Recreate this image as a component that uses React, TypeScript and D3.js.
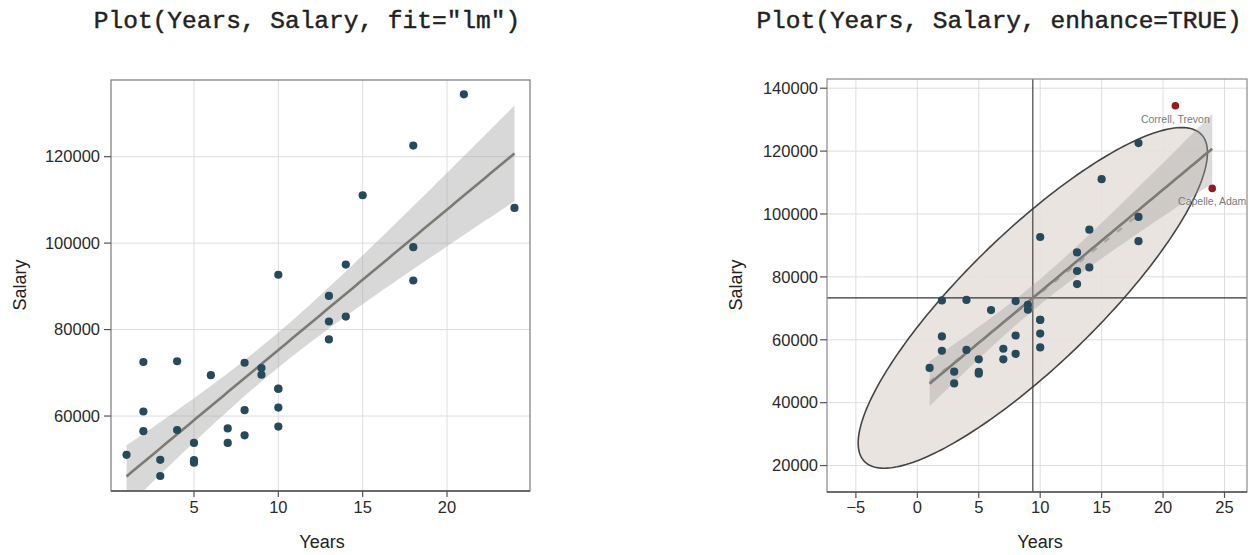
import React from "react";
import * as d3 from "d3";

// Employee records: years of service and annual salary
const years = [1, 2, 2, 2, 3, 3, 4, 4, 5, 5, 5, 6, 7, 7, 8, 8, 8, 9, 9, 10, 10, 10, 10, 10, 13, 13, 13, 14, 14, 15, 18, 18, 18, 21, 24];
const salary = [
  51037, 72503, 61055, 56508, 49869, 46125, 72675, 56773, 53773, 49800, 49189, 69442, 57140, 53788,
  72321, 61357, 55545, 71084, 69548, 92681, 66338, 66313, 61965, 57562, 87786, 81871, 77715, 95028,
  83014, 111075, 122563, 99063, 91352, 134419, 108138,
];
// Rows flagged as outliers in the enhanced plot
const outlierRows = [33, 34];
const outlierNames = ["Correll, Trevon", "Capelle, Adam"];

const leftXTicks = [5, 10, 15, 20];
const leftYTicks = [60000, 80000, 100000, 120000];
const rightXTicks = [-5, 0, 5, 10, 15, 20, 25];
const rightYTicks = [20000, 40000, 60000, 80000, 100000, 120000, 140000];

const titles = ['Plot(Years, Salary, fit="lm")', "Plot(Years, Salary, enhance=TRUE)"];

const SANS = "'Liberation Sans', Arial, Helvetica, sans-serif";
const MONO = "'Liberation Mono', 'Courier New', monospace";
const POINT = "#264a5b";
const OUTLIER = "#951c1c";
const LINE = "#7c7a72";

function fitStats(xs: number[], ys: number[]) {
  const n = xs.length;
  const mx = d3.mean(xs)!;
  const my = d3.mean(ys)!;
  let sxx = 0, syy = 0, sxy = 0;
  for (let i = 0; i < n; i++) {
    sxx += (xs[i] - mx) ** 2;
    syy += (ys[i] - my) ** 2;
    sxy += (xs[i] - mx) * (ys[i] - my);
  }
  const b = sxy / sxx;
  const a = my - b * mx;
  let sse = 0;
  for (let i = 0; i < n; i++) sse += (ys[i] - a - b * xs[i]) ** 2;
  const s = Math.sqrt(sse / (n - 2));
  return { n, mx, my, sxx, syy, sxy, a, b, s };
}

const stats = fitStats(years, salary);
const T_CRIT = 2.0345; // t(0.975, df = 33)
const CHI_R = Math.sqrt(5.991); // sqrt(qchisq(0.95, 2))

function bandData(st: ReturnType<typeof fitStats>, x0: number, x1: number) {
  const pts: { x: number; lo: number; hi: number; y: number }[] = [];
  for (let i = 0; i <= 80; i++) {
    const x = x0 + ((x1 - x0) * i) / 80;
    const y = st.a + st.b * x;
    const se = st.s * Math.sqrt(1 / st.n + (x - st.mx) ** 2 / st.sxx);
    pts.push({ x, y, lo: y - T_CRIT * se, hi: y + T_CRIT * se });
  }
  return pts;
}

function ellipsePoints(st: ReturnType<typeof fitStats>) {
  const sx = Math.sqrt(st.sxx / (st.n - 1));
  const sy = Math.sqrt(st.syy / (st.n - 1));
  const r = st.sxy / Math.sqrt(st.sxx * st.syy);
  const pts: [number, number][] = [];
  for (let i = 0; i <= 240; i++) {
    const t = (2 * Math.PI * i) / 240;
    pts.push([
      st.mx + CHI_R * sx * Math.cos(t),
      st.my + CHI_R * sy * (r * Math.cos(t) + Math.sqrt(1 - r * r) * Math.sin(t)),
    ]);
  }
  return pts;
}

function LeftPanel() {
  const x = d3.scaleLinear().domain([0.08, 24.92]).range([111, 530]);
  const y = d3.scaleLinear().domain([42659, 137734]).range([491, 80]);
  const band = bandData(stats, d3.min(years)!, d3.max(years)!);
  const area = d3.area<any>().x((d) => x(d.x)).y0((d) => y(d.lo)).y1((d) => y(d.hi));
  const line = d3.line<any>().x((d) => x(d.x)).y((d) => y(d.y));
  const [x0, x1] = x.range();
  const [yb, yt] = y.range();
  return (
    <g>
      <defs>
        <clipPath id="clipL">
          <rect x={x0} y={yt} width={x1 - x0} height={yb - yt} />
        </clipPath>
      </defs>
      <text x={307} y={28} fontFamily={MONO} fontSize={24.5} textAnchor="middle" fill="#222" stroke="#222" strokeWidth={0.45}>
        {titles[0]}
      </text>
      {leftXTicks.map((t) => (
        <line key={"gx" + t} x1={x(t)} x2={x(t)} y1={yt} y2={yb} stroke="#dedede" strokeWidth={1} />
      ))}
      {leftYTicks.map((t) => (
        <line key={"gy" + t} x1={x0} x2={x1} y1={y(t)} y2={y(t)} stroke="#dedede" strokeWidth={1} />
      ))}
      <g clipPath="url(#clipL)">
        <path d={area(band)!} fill="#a3a3a3" fillOpacity={0.42} />
        <path d={line(band)!} fill="none" stroke={LINE} strokeWidth={2.6} />
        {years.map((v, i) => (
          <circle key={i} cx={x(v)} cy={y(salary[i])} r={4.1} fill={POINT} />
        ))}
      </g>
      <rect x={x0} y={yt} width={x1 - x0} height={yb - yt} fill="none" stroke="#7a7a7a" strokeWidth={1.2} />
      <line x1={x0} x2={x1} y1={yb} y2={yb} stroke="#555" strokeWidth={1.6} />
      {leftXTicks.map((t) => (
        <g key={"tx" + t}>
          <line x1={x(t)} x2={x(t)} y1={yb} y2={yb + 6} stroke="#555" strokeWidth={1.2} />
          <text x={x(t)} y={513} fontFamily={SANS} fontSize={16.5} textAnchor="middle" fill="#2a2a2a">
            {t}
          </text>
        </g>
      ))}
      {leftYTicks.map((t) => (
        <g key={"ty" + t}>
          <line x1={x0 - 7} x2={x0} y1={y(t)} y2={y(t)} stroke="#555" strokeWidth={1.2} />
          <text x={100} y={y(t)} dy="0.35em" fontFamily={SANS} fontSize={16.5} textAnchor="end" fill="#2a2a2a">
            {t}
          </text>
        </g>
      ))}
      <text x={322} y={548} fontFamily={SANS} fontSize={18} textAnchor="middle" fill="#222">
        Years
      </text>
      <text transform="translate(26,285) rotate(-90)" fontFamily={SANS} fontSize={18} textAnchor="middle" fill="#222">
        Salary
      </text>
    </g>
  );
}

function RightPanel() {
  const x = d3.scaleLinear().domain([-7.35, 26.83]).range([827, 1247]);
  const y = d3.scaleLinear().domain([11592, 142930]).range([492, 79]);
  const band = bandData(stats, d3.min(years)!, d3.max(years)!);
  const area = d3.area<any>().x((d) => x(d.x)).y0((d) => y(d.lo)).y1((d) => y(d.hi));
  const line = d3.line<any>().x((d) => x(d.x)).y((d) => y(d.y));
  const ell = d3.line<[number, number]>().x((d) => x(d[0])).y((d) => y(d[1]));
  // fit with the flagged outliers left out
  const keepX = years.filter((_, i) => !outlierRows.includes(i));
  const keepY = salary.filter((_, i) => !outlierRows.includes(i));
  const stKeep = fitStats(keepX, keepY);
  const trimmed = bandData(stKeep, d3.min(keepX)!, d3.max(keepX)!);
  const [x0, x1] = x.range();
  const [yb, yt] = y.range();
  return (
    <g>
      <defs>
        <clipPath id="clipR">
          <rect x={x0} y={yt} width={x1 - x0} height={yb - yt} />
        </clipPath>
      </defs>
      <text x={999} y={28} fontFamily={MONO} fontSize={24.5} textAnchor="middle" fill="#222" stroke="#222" strokeWidth={0.45}>
        {titles[1]}
      </text>
      {rightXTicks.map((t) => (
        <line key={"gx" + t} x1={x(t)} x2={x(t)} y1={yt} y2={yb} stroke="#dedede" strokeWidth={1} />
      ))}
      {rightYTicks.map((t) => (
        <line key={"gy" + t} x1={x0} x2={x1} y1={y(t)} y2={y(t)} stroke="#dedede" strokeWidth={1} />
      ))}
      <g clipPath="url(#clipR)">
        <path d={ell(ellipsePoints(stats))!} fill="#e7e1dc" fillOpacity={0.9} stroke="#444" strokeWidth={1.6} />
        <line x1={x(stats.mx)} x2={x(stats.mx)} y1={yt} y2={yb} stroke="#333" strokeWidth={1.1} />
        <line x1={x0} x2={x1} y1={y(stats.my)} y2={y(stats.my)} stroke="#333" strokeWidth={1.1} />
        <path d={area(band)!} fill="#a0a0a0" fillOpacity={0.38} />
        <path d={line(band)!} fill="none" stroke={LINE} strokeWidth={2.6} />
        <path d={line(trimmed)!} fill="none" stroke="#8a867e" strokeWidth={2.2} strokeOpacity={0.55} strokeDasharray="6,10" />
        {years.map((v, i) => (
          <circle
            key={i}
            cx={x(v)}
            cy={y(salary[i])}
            r={outlierRows.includes(i) ? 3.8 : 4.1}
            fill={outlierRows.includes(i) ? OUTLIER : POINT}
          />
        ))}
        {outlierRows.map((row, k) => (
          <text
            key={"lab" + row}
            x={x(years[row])}
            y={y(salary[row]) + 17}
            fontFamily={SANS}
            fontSize={10.5}
            textAnchor="middle"
            fill="#7a7a7a"
          >
            {outlierNames[k]}
          </text>
        ))}
      </g>
      <rect x={x0} y={yt} width={x1 - x0} height={yb - yt} fill="none" stroke="#8a8a8a" strokeWidth={1.2} />
      <line x1={x0} x2={x1} y1={yb} y2={yb} stroke="#555" strokeWidth={1.6} />
      {rightXTicks.map((t) => (
        <g key={"tx" + t}>
          <line x1={x(t)} x2={x(t)} y1={yb} y2={yb + 6} stroke="#555" strokeWidth={1.2} />
          <text x={x(t)} y={513} fontFamily={SANS} fontSize={16.5} textAnchor="middle" fill="#2a2a2a">
            {d3.format("")(t)}
          </text>
        </g>
      ))}
      {rightYTicks.map((t) => (
        <g key={"ty" + t}>
          <line x1={x0 - 7} x2={x0} y1={y(t)} y2={y(t)} stroke="#555" strokeWidth={1.2} />
          <text x={818} y={y(t)} dy="0.35em" fontFamily={SANS} fontSize={16.5} textAnchor="end" fill="#2a2a2a">
            {t}
          </text>
        </g>
      ))}
      <text x={1040} y={548} fontFamily={SANS} fontSize={18} textAnchor="middle" fill="#222">
        Years
      </text>
      <text transform="translate(742,285) rotate(-90)" fontFamily={SANS} fontSize={18} textAnchor="middle" fill="#222">
        Salary
      </text>
    </g>
  );
}

export default function App() {
  return (
    <svg width={1252} height={555} style={{ display: "block", position: "absolute", left: 0, top: 0, background: "#fff" }}>
      <rect width={1252} height={555} fill="#fff" />
      <LeftPanel />
      <RightPanel />
    </svg>
  );
}
